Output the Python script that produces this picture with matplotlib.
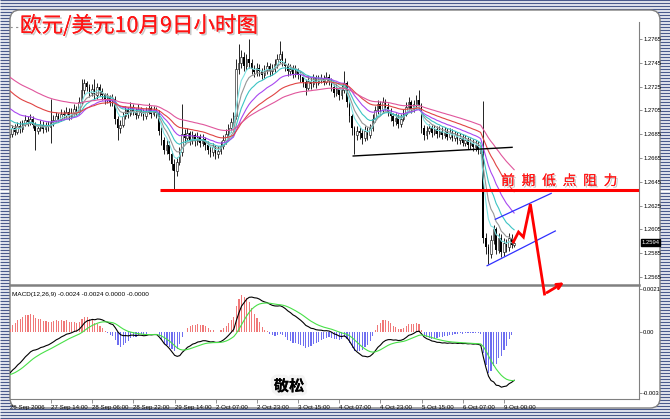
import numpy as np
import matplotlib
matplotlib.use('Agg')
import matplotlib.pyplot as plt
import matplotlib.patheffects as pe
from matplotlib.patches import FancyBboxPatch
from matplotlib.transforms import blended_transform_factory

plt.rcParams['font.family'] = ['Liberation Sans', 'DejaVu Sans']

W, H = 670, 419

# hourly candles, in 0.0001 above 1.2 (685 -> 1.2685)
first_open = 683
close_pts = [685, 690, 687, 692, 689, 694, 697, 695, 698, 693,
             688, 690, 693, 689, 692, 691, 695, 697, 700, 698,
             702, 701, 704, 700, 703, 706, 704, 712, 722, 728,
             725, 720, 723, 718, 725, 721, 718, 714, 716, 712,
             715, 698, 690, 693, 700, 705, 702, 708, 704, 701,
             706, 703, 700, 704, 707, 702, 705, 703, 688, 680,
             672, 676, 668, 660, 654, 662, 670, 685, 682, 686,
             680, 684, 679, 683, 678, 681, 676, 672, 670, 674,
             668, 671, 675, 680, 685, 690, 695, 700, 740, 745,
             750, 742, 748, 745, 740, 737, 741, 738, 735, 739,
             742, 738, 740, 744, 748, 752, 746, 742, 738, 740,
             736, 739, 735, 733, 729, 724, 730, 727, 732, 728,
             731, 732, 729, 733, 730, 725, 720, 723, 718, 722,
             728, 712, 700, 690, 684, 688, 686, 682, 688, 684,
             690, 698, 705, 710, 706, 712, 708, 704, 700, 696,
             699, 694, 698, 702, 708, 712, 706, 710, 714, 709,
             690, 684, 688, 690, 686, 689, 685, 688, 684, 687,
             683, 686, 682, 684, 680, 682, 678, 680, 676, 678,
             674, 676, 672, 668, 598, 590, 584, 596, 605, 588,
             598, 586, 594, 590, 598, 592, 594]
high_pts = [689, 693, 694, 695, 696, 697, 701, 700, 702, 700,
            695, 693, 697, 696, 695, 696, 715, 701, 704, 703,
            706, 705, 708, 707, 707, 710, 709, 716, 731, 731,
            730, 727, 727, 731, 728, 727, 724, 720, 720, 718,
            719, 717, 700, 697, 704, 709, 708, 712, 710, 707,
            710, 708, 706, 708, 711, 709, 709, 708, 705, 691,
            683, 680, 679, 671, 664, 666, 674, 710, 689, 690,
            688, 688, 686, 687, 685, 685, 683, 679, 675, 678,
            676, 675, 679, 684, 689, 694, 699, 704, 748, 761,
            756, 754, 752, 765, 748, 743, 745, 744, 741, 743,
            746, 745, 744, 748, 752, 763, 755, 749, 745, 744,
            743, 743, 741, 738, 736, 731, 734, 733, 736, 735,
            735, 736, 735, 737, 736, 732, 727, 727, 725, 726,
            738, 730, 714, 702, 692, 692, 691, 689, 692, 691,
            694, 702, 709, 714, 713, 716, 715, 711, 707, 703,
            703, 702, 702, 706, 712, 716, 714, 714, 718, 722,
            711, 693, 692, 694, 693, 693, 692, 692, 691, 691,
            690, 690, 689, 688, 687, 686, 685, 684, 683, 682,
            681, 680, 679, 676, 713, 602, 593, 600, 609, 607,
            602, 601, 598, 597, 602, 601, 598]
low_pts = [680, 683, 684, 685, 686, 687, 692, 692, 693, 690,
           672, 685, 688, 686, 687, 688, 678, 692, 695, 695,
           696, 698, 699, 697, 698, 701, 701, 702, 710, 719,
           721, 716, 717, 715, 715, 717, 714, 710, 711, 709,
           709, 694, 680, 686, 691, 698, 699, 700, 701, 698,
           699, 700, 697, 698, 702, 699, 700, 699, 684, 676,
           668, 668, 663, 655, 638, 650, 659, 667, 678, 679,
           676, 677, 675, 676, 674, 675, 672, 668, 666, 667,
           664, 665, 668, 673, 677, 682, 687, 692, 698, 736,
           741, 738, 739, 741, 736, 733, 734, 734, 731, 732,
           736, 734, 735, 737, 741, 745, 742, 738, 734, 735,
           732, 733, 731, 729, 725, 718, 722, 723, 725, 724,
           726, 728, 726, 727, 726, 721, 716, 717, 714, 715,
           720, 708, 695, 684, 668, 680, 681, 677, 679, 680,
           682, 688, 695, 702, 702, 704, 705, 700, 696, 692,
           693, 690, 691, 696, 700, 705, 703, 704, 707, 706,
           686, 680, 681, 685, 683, 684, 682, 683, 681, 682,
           680, 681, 679, 679, 677, 677, 675, 675, 673, 673,
           671, 671, 668, 664, 594, 584, 576, 581, 593, 584,
           585, 582, 583, 586, 587, 589, 590]

date_labels = ['26 Sep 2006', '27 Sep 14:00', '28 Sep 06:00', '28 Sep 22:00',
               '29 Sep 14:00', '2 Oct 07:00', '2 Oct 23:00', '3 Oct 15:00',
               '4 Oct 07:00', '4 Oct 23:00', '5 Oct 15:00', '6 Oct 07:00',
               '9 Oct 00:00']
bars_per_label = 16
price_ticks = [1.2765, 1.2745, 1.2725, 1.2705, 1.2685, 1.2665, 1.2645,
               1.2625, 1.2605, 1.2585, 1.2565]
macd_ticks = [0.0021, 0.0, -0.003]
macd_tick_labels = ['0.0021', '0.00', '-0.003']

# moving averages: period, colour, value at first bar (history before the window)
ma_periods = [5, 8, 13, 21, 34, 55]
ma_colors = ['#7fe4e4', '#979797', '#3cc4c4', '#a848f0', '#e04444', '#e0569c']
ma_start = [1.2692, 1.2695, 1.2699, 1.2709, 1.2724, 1.2735]

macd_fast, macd_slow, macd_sig = 12, 26, 9
macd_start = [1.2692, 1.2713, -0.0021]   # ema fast, ema slow, signal
hist_scale = 2.0

# hand drawn lines on the chart (bar index, price)
support_x, support_y = [133.5, 195.2], [1.26667, 1.2674]
resist_level, resist_from = 1.2638, 58.3
chan_up_x, chan_up_y = [188.7, 210.4], [1.26135, 1.26353]
chan_lo_x, chan_lo_y = [185.5, 212.0], [1.25745, 1.26037]
path_x = [195.7, 197.7, 199.6, 202.3, 207.8, 216.3]
path_y = [1.25944, 1.26028, 1.25986, 1.26263, 1.25507, 1.25617]


def ema(values, period, start):
    a = 2.0 / (period + 1)
    out = np.empty(len(values))
    prev = start
    for i, v in enumerate(values):
        prev = prev + a * (v - prev)
        out[i] = prev
    return out


close = 1.2 + np.array(close_pts) / 10000
high = 1.2 + np.array(high_pts) / 10000
low = 1.2 + np.array(low_pts) / 10000
opn = np.concatenate([[1.2 + first_open / 10000], close[:-1]])
n = len(close)
x = np.arange(n)

macd = ema(close, macd_fast, macd_start[0]) - ema(close, macd_slow, macd_start[1])
signal = ema(macd, macd_sig, macd_start[2])
hist = hist_scale * (macd - signal)

fig = plt.figure(figsize=(W / 100, H / 100), dpi=100)


def px_axes(x0, y0, x1, y1, **kw):
    return fig.add_axes([x0 / W, 1 - y1 / H, (x1 - x0) / W, (y1 - y0) / H], **kw)


# window frame
bg = px_axes(0, 0, W, H, zorder=-5)
bg.set_xlim(0, W)
bg.set_ylim(H, 0)
bg.axis('off')
bg.hlines(np.arange(0.5, H, 3), 0, W, color='#4a5a8c', lw=1.0, zorder=1)
bg.add_patch(FancyBboxPatch((10, 10), 650, 398, boxstyle='round,pad=0,rounding_size=10',
                            fc='white', ec='#808080', lw=1, zorder=3))
bg.plot([10, 112], [27, 27], color='#909090', lw=0.8, ls=(0, (2, 3)), zorder=4)

xlim = (0.2, 244.5)
grey = '#808080'

# MACD panel
am = px_axes(10, 286, 639, 399, zorder=1)
am.set_facecolor('none')
am.set_xlim(*xlim)
am.set_ylim(-0.003272, 0.002247)
cols = np.where(hist >= 0, '#f07878', '#6e6ef0')
am.bar(x, hist, width=0.45, color=cols, lw=0)
am.plot(x, macd, color='black', lw=0.8)
am.plot(x, signal, color='#48e048', lw=0.8)
for s in ['top', 'left']:
    am.spines[s].set_visible(False)
am.spines['right'].set_color(grey)
am.spines['bottom'].set_color(grey)
am.yaxis.tick_right()
am.set_yticks(macd_ticks)
am.set_yticklabels(macd_tick_labels)
am.set_xticks(np.arange(len(date_labels)) * bars_per_label)
am.set_xticklabels(date_labels)
for lbl in am.get_xticklabels():
    lbl.set_ha('left')
am.tick_params(axis='x', length=3, width=0.6, color=grey, pad=1.5, labelsize=4.4)
am.tick_params(axis='y', length=2, width=0.6, color=grey, pad=1, labelsize=4.2)
am.text(0.003, 0.95, 'MACD(12,26,9) -0.0024 -0.0024 0.0000 -0.0000',
        transform=am.transAxes, fontsize=4.6, va='top')

# price panel
ax = px_axes(10, 22, 639, 285, zorder=2)
ax.set_facecolor('none')
ax.set_xlim(*xlim)
ax.set_ylim(1.25583, 1.27793)
ax.vlines(x, low, high, color='black', lw=0.6, zorder=2)
up = close >= opn
ax.bar(x[up], (close - opn)[up], bottom=opn[up], width=0.6, color='white',
       edgecolor='black', lw=0.4, zorder=3)
ax.bar(x[~up], (opn - close)[~up], bottom=close[~up], width=0.6, color='black',
       lw=0, zorder=3)
for p, c, s in zip(ma_periods, ma_colors, ma_start):
    ax.plot(x, ema(close, p, s), color=c, lw=0.8, zorder=4)

ax.plot(support_x, support_y, color='black', lw=1.0, zorder=5)
ax.hlines(resist_level, resist_from, xlim[1], color='#ff0000', lw=2.2, zorder=5)
ax.plot(chan_up_x, chan_up_y, color='#3030ff', lw=0.9, zorder=5)
ax.plot(chan_lo_x, chan_lo_y, color='#3030ff', lw=0.9, zorder=5)
ax.plot(path_x[:-1], path_y[:-1], color='#ff0000', lw=2.0, zorder=6, clip_on=False,
        solid_joinstyle='miter')
ax.annotate('', xy=(path_x[-1], path_y[-1]), xytext=(path_x[-2], path_y[-2]),
            arrowprops=dict(arrowstyle='->', color='#ff0000', lw=2.0, mutation_scale=9),
            annotation_clip=False, zorder=6)

for s in ['top', 'left']:
    ax.spines[s].set_visible(False)
ax.spines['right'].set_color(grey)
ax.spines['bottom'].set_color(grey)
ax.spines['bottom'].set_linewidth(1.8)
ax.set_xticks([])
ax.yaxis.tick_right()
ax.set_yticks(price_ticks)
ax.set_yticklabels(['%.4f' % t for t in price_ticks])
ax.tick_params(axis='y', length=2, width=0.6, color=grey, pad=1, labelsize=4.2)
tr = blended_transform_factory(ax.transAxes, ax.transData)
ax.text(1.004, close[-1], '%.4f' % close[-1], transform=tr, fontsize=4.2, color='white',
        va='center', ha='left', bbox=dict(fc='black', ec='black', pad=0.6))

shadow = [pe.withSimplePatchShadow(offset=(1.2, -1.2), shadow_rgbFace='#c4c4c4', alpha=0.9),
          pe.Normal()]
fig.text(20 / W, 1 - 26 / H, '欧元/美元10月9日小时图', fontsize=15.5, color='#ff1414',
         family=['Noto Sans CJK SC', 'DejaVu Sans'], va='center', ha='left',
         path_effects=shadow)
for i, ch in enumerate('前期低点阻力'):
    fig.text((508 + 20.5 * i) / W, 1 - 181 / H, ch, fontsize=10, color='#ff1414',
             family=['Noto Sans CJK SC'], va='center', ha='center', path_effects=shadow)
fig.text(289 / W, 1 - 386 / H, '敬松', fontsize=11, weight='bold', color='black',
         family=['Noto Sans CJK SC'], va='center', ha='center',
         path_effects=[pe.withStroke(linewidth=5, foreground='#f4f4f4'), pe.Normal()])

fig.savefig('out.png', dpi=100)
